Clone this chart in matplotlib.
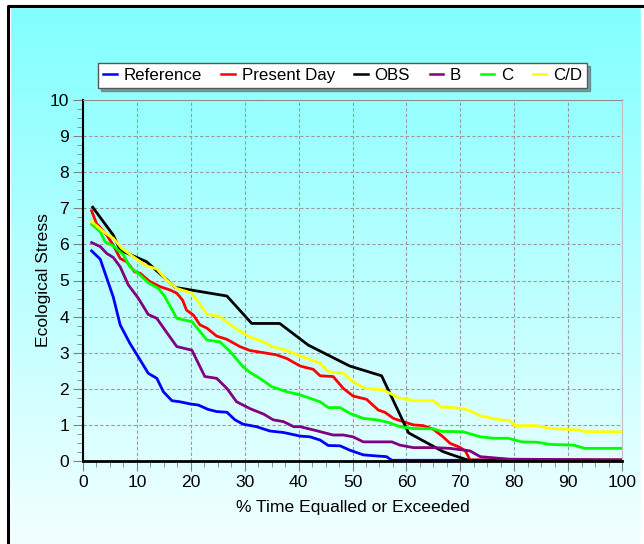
import numpy as np
import matplotlib
matplotlib.use("Agg")
import matplotlib.pyplot as plt
from matplotlib.patches import Rectangle
from matplotlib.ticker import MultipleLocator

plt.rcParams['font.family'] = ['Liberation Sans', 'DejaVu Sans']

# Duration curves (x = % time, y = ecological stress)
ref_x = [1.6, 3.2, 5.6, 6.9, 8.7, 10.6, 12.1, 13.7, 14.9, 16.5, 18, 19.9, 21.4, 23.2, 24.8,
         26.7, 28.2, 29.7, 32.2, 34.7, 37.2, 40.3, 42.1, 44, 45.5, 47.7, 49.5, 52, 54.5,
         56.3, 57.3, 100]
ref_y = [5.82, 5.59, 4.55, 3.77, 3.26, 2.8, 2.43, 2.29, 1.92, 1.67, 1.64, 1.58, 1.55, 1.43,
         1.37, 1.35, 1.14, 1.02, 0.95, 0.83, 0.79, 0.69, 0.67, 0.58, 0.43, 0.42, 0.30, 0.17,
         0.14, 0.12, 0.02, 0.02]

pd_x = [1.6, 2.5, 4.4, 5.6, 6.9, 8.1, 9.6, 10.6, 12.4, 14.3, 16.1, 17.4, 18.5, 19.2, 20.5,
        21.7, 23, 24.8, 26.7, 29.1, 31, 33.5, 35.9, 37.8, 40.3, 42.7, 44, 46.4, 48.3, 50.1,
        52.6, 54.8, 56, 57.6, 59.4, 61.3, 63.1, 65, 66.8, 68.1, 69.9, 70.9, 71.8, 100]
pd_y = [6.93, 6.58, 6.26, 5.98, 5.61, 5.52, 5.24, 5.2, 4.97, 4.83, 4.74, 4.65, 4.45, 4.18,
        4.04, 3.77, 3.68, 3.46, 3.37, 3.17, 3.06, 3.0, 2.94, 2.84, 2.63, 2.54, 2.36, 2.34,
        2.01, 1.8, 1.71, 1.41, 1.35, 1.18, 1.09, 1.0, 0.98, 0.88, 0.67, 0.49, 0.38, 0.29,
        0.03, 0.03]

obs_x = [1.8, 5.6, 6.9, 11.8, 17.1, 26.7, 31.3, 36.5, 41.8, 49.5, 55.4, 60.4, 66.8, 68.1,
         71.5, 100]
obs_y = [7.03, 6.26, 5.84, 5.52, 4.81, 4.57, 3.81, 3.81, 3.21, 2.63, 2.36, 0.78, 0.26,
         0.19, 0.02, 0.02]

b_x = [1.6, 3.2, 4.4, 5.6, 6.9, 8.4, 10.3, 12.1, 13.7, 15.2, 17.4, 20.2, 22.6, 24.8, 26.7,
       28.5, 31, 33.5, 35.3, 37.2, 39.1, 40.3, 43.3, 46.4, 48.3, 50.1, 52, 57.3, 58.8, 61.3,
       65, 68.1, 71.8, 73.7, 79.2, 100]
b_y = [6.05, 5.94, 5.75, 5.64, 5.38, 4.88, 4.5, 4.06, 3.95, 3.63, 3.17, 3.07, 2.34, 2.29,
       2.01, 1.64, 1.45, 1.3, 1.14, 1.09, 0.95, 0.95, 0.84, 0.72, 0.72, 0.67, 0.53, 0.53,
       0.44, 0.37, 0.37, 0.35, 0.28, 0.12, 0.05, 0.03]

c_x = [1.6, 3.2, 4.1, 5.6, 7.5, 8.7, 10.6, 12.1, 14, 15.2, 17.4, 20.2, 23, 25.4, 27.3, 29.7,
       31, 32.8, 35, 37.8, 40.3, 44, 45.5, 47.7, 49.5, 52, 54.5, 56.6, 58.8, 61.3, 65, 66.5,
       70.5, 73.7, 76.1, 78.9, 81.4, 84.2, 86.6, 91, 93.1, 100]
c_y = [6.56, 6.35, 6.07, 5.96, 5.71, 5.38, 5.15, 4.94, 4.78, 4.55, 3.95, 3.86, 3.35, 3.3,
       3.03, 2.61, 2.45, 2.29, 2.06, 1.92, 1.83, 1.64, 1.48, 1.48, 1.32, 1.18, 1.14, 1.07,
       0.95, 0.9, 0.89, 0.82, 0.81, 0.67, 0.63, 0.63, 0.53, 0.52, 0.46, 0.44, 0.35, 0.35]

cd_x = [1.6, 3.8, 5.6, 7.2, 9.3, 11.8, 13.7, 15.5, 17.4, 20.2, 23, 25.4, 28.2, 31, 33.5,
        35, 37.2, 40.3, 44, 45.5, 48.3, 50.1, 52.3, 55.7, 56.6, 58.8, 61.9, 65, 66.5, 68.1,
        71.2, 73.7, 77.4, 79.2, 80.1, 84.2, 86.6, 89.7, 91.9, 93.4, 100]
cd_y = [6.63, 6.35, 6.17, 5.89, 5.66, 5.4, 5.32, 5.01, 4.78, 4.65, 4.07, 4.0, 3.68, 3.43,
        3.3, 3.17, 3.09, 2.91, 2.71, 2.47, 2.43, 2.2, 2.01, 1.97, 1.9, 1.74, 1.67, 1.67,
        1.49, 1.49, 1.43, 1.25, 1.14, 1.12, 0.98, 0.98, 0.9, 0.88, 0.86, 0.81, 0.81]

series = [
    ("Reference", ref_x, ref_y, "#0000FF"),
    ("Present Day", pd_x, pd_y, "#FF0000"),
    ("OBS", obs_x, obs_y, "#000000"),
    ("B", b_x, b_y, "#800080"),
    ("C", c_x, c_y, "#00FF00"),
    ("C/D", cd_x, cd_y, "#FFFF00"),
]

fig = plt.figure(figsize=(6.44, 5.44), dpi=100)

# cyan-to-white gradient background with a black frame (Excel chart area)
bg = fig.add_axes([0, 0, 1, 1], zorder=-10)
grad = np.linspace(0, 1, 256).reshape(-1, 1)
top = np.array([128, 255, 255]) / 255
bottom = np.array([242, 255, 255]) / 255
img = top + (bottom - top) * grad[:, :, None]
bg.imshow(img, aspect="auto", extent=[0, 1, 0, 1])
bg.set_xlim(0, 1)
bg.set_ylim(0, 1)
bg.add_patch(Rectangle((0, 0), 10 / 644, 1, color="white", zorder=2))
bg.add_patch(Rectangle((0, 1 - 7 / 544), 1, 7 / 544, color="white", zorder=2))
bg.add_patch(Rectangle((1 - 3 / 644, 0), 3 / 644, 1, color="white", zorder=2))
bg.plot([8 / 644, 8 / 644, 1.2], [-0.1, 1 - 6 / 544, 1 - 6 / 544], color="black", lw=2.2,
        zorder=3)
bg.axis("off")

ax = fig.add_axes([83 / 644, 1 - 461 / 544, 539 / 644, 361 / 544])
ax.set_facecolor("none")

for name, xs, ys, col in series:
    ax.plot(xs, ys, color=col, lw=2, label=name)

ax.set_xlim(0, 100)
ax.set_ylim(0, 10)
ax.xaxis.set_major_locator(MultipleLocator(10))
ax.xaxis.set_minor_locator(MultipleLocator(2.5))
ax.yaxis.set_major_locator(MultipleLocator(1))
ax.yaxis.set_minor_locator(MultipleLocator(0.25))
ax.grid(True, which="major", linestyle=(0, (3, 2)), color="#9a9a9a", lw=0.8)
ax.tick_params(which="major", length=7, color="#808080", labelsize=12.6, pad=3)
ax.tick_params(which="minor", length=4, color="#808080")

ax.spines["left"].set_color("black")
ax.spines["left"].set_linewidth(1.5)
ax.spines["bottom"].set_color("black")
ax.spines["bottom"].set_linewidth(2)
ax.spines["top"].set_color("#909090")
ax.spines["right"].set_color("#c0c0c0")

ax.set_xlabel("% Time Equalled or Exceeded", fontsize=12.6, labelpad=7)
ax.set_ylabel("Ecological Stress", fontsize=12.6, labelpad=-1)

leg = fig.legend(loc="upper left", bbox_to_anchor=(98 / 644, 1 - 91 / 544, 489 / 644, 28 / 544),
                 mode="expand", ncol=6, fontsize=12.2, handlelength=0.8, handletextpad=0.4,
                 columnspacing=1.0, frameon=True, fancybox=False, shadow=True,
                 borderpad=0.3, borderaxespad=0)
leg.get_frame().set_edgecolor("#555555")
leg.get_frame().set_linewidth(1)
for h in leg.legend_handles:
    h.set_linewidth(1.8)

fig.savefig("out.png", dpi=100)
